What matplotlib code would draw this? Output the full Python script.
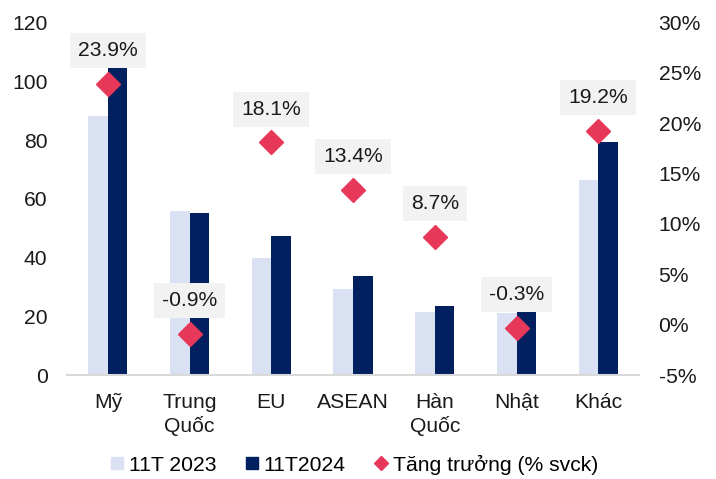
import matplotlib.pyplot as plt
from matplotlib.lines import Line2D
import numpy as np

plt.rcParams['font.family'] = ['Liberation Sans', 'DejaVu Sans']

# data
categories = ['Mỹ', 'Trung\nQuốc', 'EU', 'ASEAN', 'Hàn\nQuốc', 'Nhật', 'Khác']
val_2023 = [88.3, 56.0, 39.9, 29.4, 21.5, 21.2, 66.5]
val_2024 = [109.4, 55.3, 47.4, 33.8, 23.4, 22.2, 79.3]
growth = [23.9, -0.9, 18.1, 13.4, 8.7, -0.3, 19.2]

c_light = '#D9E1F2'
c_dark = '#002060'
c_red = '#E8385A'
fs = 15.2

fig = plt.figure(figsize=(7.16, 4.79), dpi=100)
ax1 = fig.add_axes([0.0936, 0.2171, 0.799, 0.7359])
ax2 = ax1.twinx()

x = np.arange(len(categories))
w = 0.24
ax1.bar(x - w / 2, val_2023, w, color=c_light, zorder=2)
ax1.bar(x + w / 2, val_2024, w, color=c_dark, zorder=2)

ax1.set_ylim(0, 120)
ax1.set_yticks(range(0, 121, 20))
ax1.set_xlim(-0.5, 6.5)
ax1.set_xticks(x)
ax1.set_xticklabels(categories, fontsize=fs, linespacing=1.25)

ax2.set_ylim(-5, 30)
ax2.set_yticks(range(-5, 31, 5))
ax2.set_yticklabels([f'{v}%' for v in range(-5, 31, 5)])

ax2.plot(x, growth, linestyle='none', marker='D', markersize=12.5,
         color=c_red, zorder=5)
for xi, g in zip(x, growth):
    ax2.annotate(f'{g}%', (xi, g), xytext=(0, 24), textcoords='offset points',
                 ha='center', va='center', fontsize=fs, color='#1a1a1a',
                 bbox=dict(boxstyle='square,pad=0.38', fc='#F2F2F2', ec='none'),
                 zorder=6)

# bars go behind the twin axes so labels can cover them
ax1.set_zorder(1)
ax2.set_zorder(2)
ax2.patch.set_visible(False)

for ax in (ax1, ax2):
    for s in ax.spines.values():
        s.set_visible(False)
    ax.tick_params(length=0, labelsize=fs, colors='#1a1a1a')
ax1.spines['bottom'].set_visible(True)
ax1.spines['bottom'].set_color('#D9D9D9')
ax1.spines['bottom'].set_linewidth(1.5)
ax1.tick_params(axis='y', pad=14)
ax1.tick_params(axis='x', pad=13)
ax2.tick_params(axis='y', pad=14)

handles = [
    Line2D([], [], linestyle='none', marker='s', markersize=8.5, color=c_light),
    Line2D([], [], linestyle='none', marker='s', markersize=8.5, color=c_dark),
    Line2D([], [], linestyle='none', marker='D', markersize=7, color=c_red),
]
fig.legend(handles, ['11T 2023', '11T2024', 'Tăng trưởng (% svck)'],
           loc='center', bbox_to_anchor=(0.495, 0.03), ncol=3, frameon=False,
           fontsize=fs, handlelength=0.6, handletextpad=0.25,
           columnspacing=1.4, borderpad=0)

fig.savefig('out.png', dpi=100)
